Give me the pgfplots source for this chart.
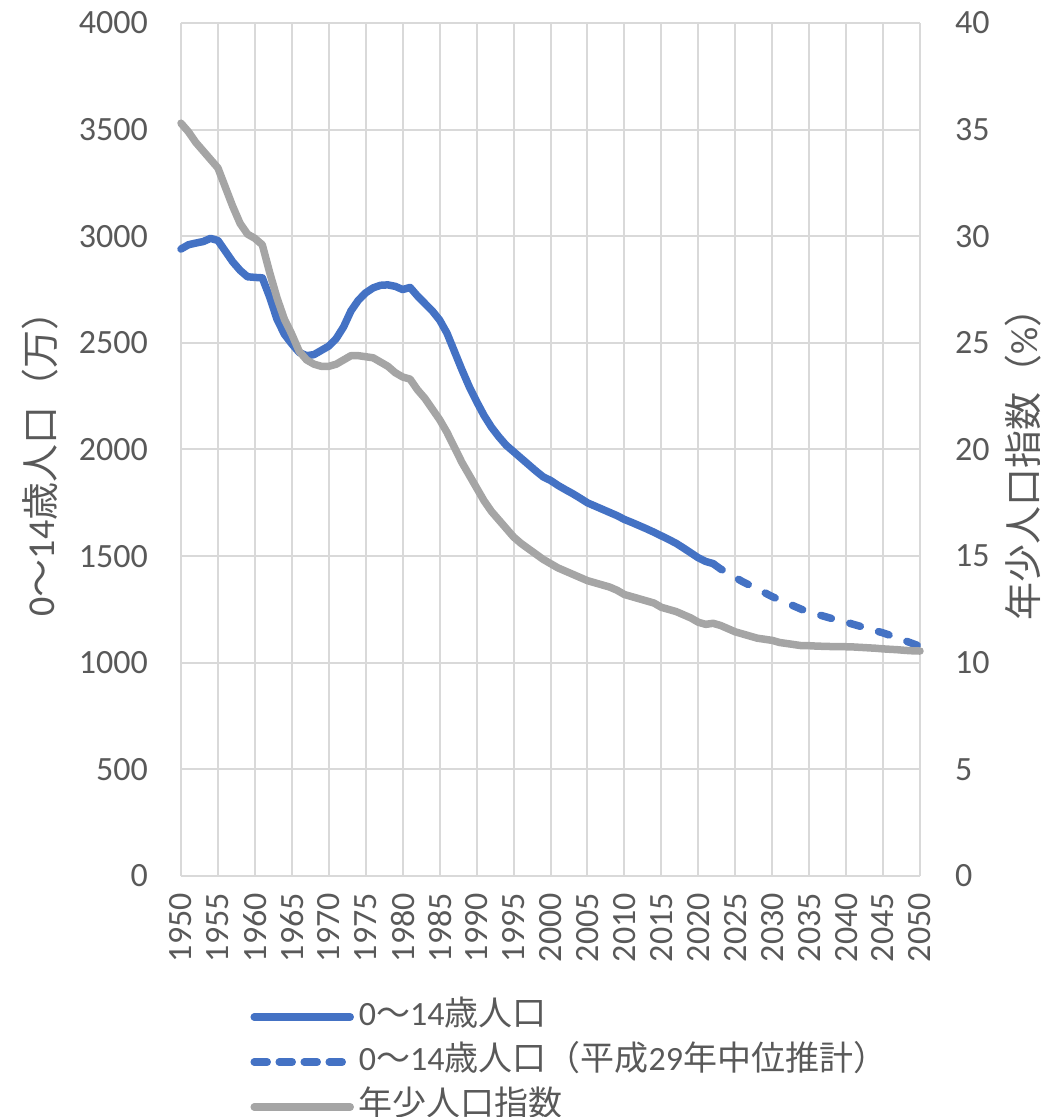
\documentclass[border=0pt]{standalone}
\usepackage{fontspec}
\setmainfont{Carlito}
\newfontfamily\cjk{Noto Sans CJK JP}
\usepackage{pgfplots}
\pgfplotsset{compat=1.18}
\definecolor{cblue}{HTML}{4472C4}
\definecolor{cgray}{HTML}{A5A5A5}
\definecolor{cgrid}{HTML}{D9D9D9}
\definecolor{ctxt}{HTML}{595959}
\newcommand{\jp}[1]{{\cjk #1}}
\newcommand{\bigfont}{\fontsize{34}{40}\selectfont}
\newcommand{\titlefont}{\fontsize{38}{44}\selectfont}
\pgfplotsset{/pgf/number format/1000 sep={}}
\begin{document}
\begin{tikzpicture}
\path[use as bounding box] (-181pt,-241pt) rectangle (866pt,876pt);
\begin{axis}[
  at={(0pt,0pt)}, anchor=south west, scale only axis,
  width=739pt, height=853pt,
  xmin=1950, xmax=2050, ymin=0, ymax=4000,
  xtick={1950,1955,...,2050}, ytick={0,500,...,4000},
  /pgf/number format/assume math mode=true,
  grid=major, major grid style={color=cgrid, line width=2pt},
  axis line style={draw=none}, major tick length=0pt,
  tick label style={font=\bigfont, color=ctxt, inner sep=0pt},
  xticklabel style={rotate=90, anchor=east},
  xticklabel shift=17pt, yticklabel shift=33pt,
  ylabel={0\jp{〜}14\jp{歳人口（万）}},
  ylabel style={font=\titlefont, color=ctxt, at={(axis description cs:-0.191,0.494)}, anchor=center},
  clip=false,
]
\addplot[cblue, line width=7.5pt, line join=round, line cap=round] coordinates {
(1950,2940)(1951,2960)(1952,2968)(1953,2975)(1954,2990)(1955,2980)(1956,2930)(1957,2880)(1958,2840)(1959,2810)
(1960,2807)(1961,2805)(1962,2715)(1963,2610)(1964,2540)(1965,2495)(1966,2455)(1967,2440)(1968,2445)(1969,2465)
(1970,2485)(1971,2520)(1972,2575)(1973,2650)(1974,2700)(1975,2735)(1976,2758)(1977,2770)(1978,2772)(1979,2765)
(1980,2750)(1981,2760)(1982,2720)(1983,2685)(1984,2650)(1985,2607)(1986,2545)(1987,2460)(1988,2375)(1989,2295)
(1990,2225)(1991,2160)(1992,2105)(1993,2060)(1994,2020)(1995,1990)(1996,1960)(1997,1930)(1998,1900)(1999,1872)
(2000,1855)(2001,1832)(2002,1812)(2003,1793)(2004,1772)(2005,1750)(2006,1735)(2007,1720)(2008,1705)(2009,1690)
(2010,1672)(2011,1658)(2012,1643)(2013,1628)(2014,1612)(2015,1595)(2016,1578)(2017,1560)(2018,1538)(2019,1515)
(2020,1492)(2021,1475)(2022,1465)
};
\addplot[cblue, line width=7.5pt, line join=round, line cap=round, dash pattern=on 11pt off 19pt] coordinates {
(2022,1465)(2023,1440)(2024,1422)(2025,1400)(2026,1380)(2027,1363)(2028,1346)(2029,1328)
(2030,1310)(2031,1295)(2032,1280)(2033,1265)(2034,1250)(2035,1238)(2036,1228)(2037,1218)(2038,1208)(2039,1198)
(2040,1190)(2041,1180)(2042,1170)(2043,1160)(2044,1150)(2045,1140)(2046,1128)(2047,1116)(2048,1103)(2049,1090)
(2050,1077)
};
\end{axis}
\begin{axis}[
  at={(0pt,0pt)}, anchor=south west, scale only axis,
  width=739pt, height=853pt,
  xmin=1950, xmax=2050, ymin=0, ymax=40,
  axis x line=none, axis y line*=right,
  ytick={0,5,...,40},
  /pgf/number format/assume math mode=true,
  axis line style={draw=none}, major tick length=0pt,
  tick label style={font=\bigfont, color=ctxt, inner sep=0pt},
  yticklabel shift=35pt,
  ylabel={\jp{年少人口指数（}\%\jp{）}},
  ylabel style={font=\titlefont, color=ctxt, at={(axis description cs:1.139,0.494)}, anchor=center},
  clip=false,
  legend style={draw=none, fill=none, at={(axis description cs:0.094,-0.1454)}, anchor=north west,
    inner sep=0pt, outer sep=0pt, row sep=11pt, font=\bigfont, text=ctxt,
    nodes={inner sep=0pt, text height=25pt, text depth=9pt},
    /tikz/every odd column/.append style={column sep=5pt}},
  legend cell align=left,
  legend image code/.code={\draw[#1] (0pt,0pt) -- (96pt,0pt);},
]
\addlegendimage{cblue, line width=7.5pt, line cap=round}
\addlegendentry{0\jp{〜}14\jp{歳人口}}
\addlegendimage{cblue, line width=7.5pt, line cap=round, dash pattern=on 13pt off 12pt}
\addlegendentry{0\jp{〜}14\jp{歳人口（平成}29\jp{年中位推計）}}
\addplot[cgray, line width=7.5pt, line join=round, line cap=round] coordinates {
(1950,35.3)(1951,34.9)(1952,34.4)(1953,34.0)(1954,33.6)(1955,33.2)(1956,32.3)(1957,31.4)(1958,30.6)(1959,30.1)
(1960,29.9)(1961,29.6)(1962,28.3)(1963,27.1)(1964,26.1)(1965,25.4)(1966,24.6)(1967,24.2)(1968,24.0)(1969,23.9)
(1970,23.9)(1971,24.0)(1972,24.2)(1973,24.4)(1974,24.4)(1975,24.35)(1976,24.3)(1977,24.1)(1978,23.9)(1979,23.6)
(1980,23.4)(1981,23.3)(1982,22.8)(1983,22.4)(1984,21.9)(1985,21.4)(1986,20.8)(1987,20.1)(1988,19.4)(1989,18.8)
(1990,18.2)(1991,17.6)(1992,17.1)(1993,16.7)(1994,16.3)(1995,15.9)(1996,15.6)(1997,15.35)(1998,15.1)(1999,14.85)
(2000,14.65)(2001,14.45)(2002,14.3)(2003,14.15)(2004,14.0)(2005,13.85)(2006,13.75)(2007,13.65)(2008,13.55)(2009,13.4)
(2010,13.2)(2011,13.1)(2012,13.0)(2013,12.9)(2014,12.8)(2015,12.6)(2016,12.5)(2017,12.4)(2018,12.25)(2019,12.1)
(2020,11.9)(2021,11.8)(2022,11.85)(2023,11.75)(2024,11.6)(2025,11.45)(2026,11.35)(2027,11.25)(2028,11.15)(2029,11.1)
(2030,11.05)(2031,10.95)(2032,10.9)(2033,10.85)(2034,10.8)(2035,10.8)(2036,10.78)(2037,10.77)(2038,10.76)(2039,10.76)
(2040,10.75)(2041,10.74)(2042,10.72)(2043,10.7)(2044,10.68)(2045,10.65)(2046,10.63)(2047,10.61)(2048,10.58)(2049,10.56)
(2050,10.55)
};
\addlegendentry{\jp{年少人口指数}}
\end{axis}
\end{tikzpicture}
\end{document}
